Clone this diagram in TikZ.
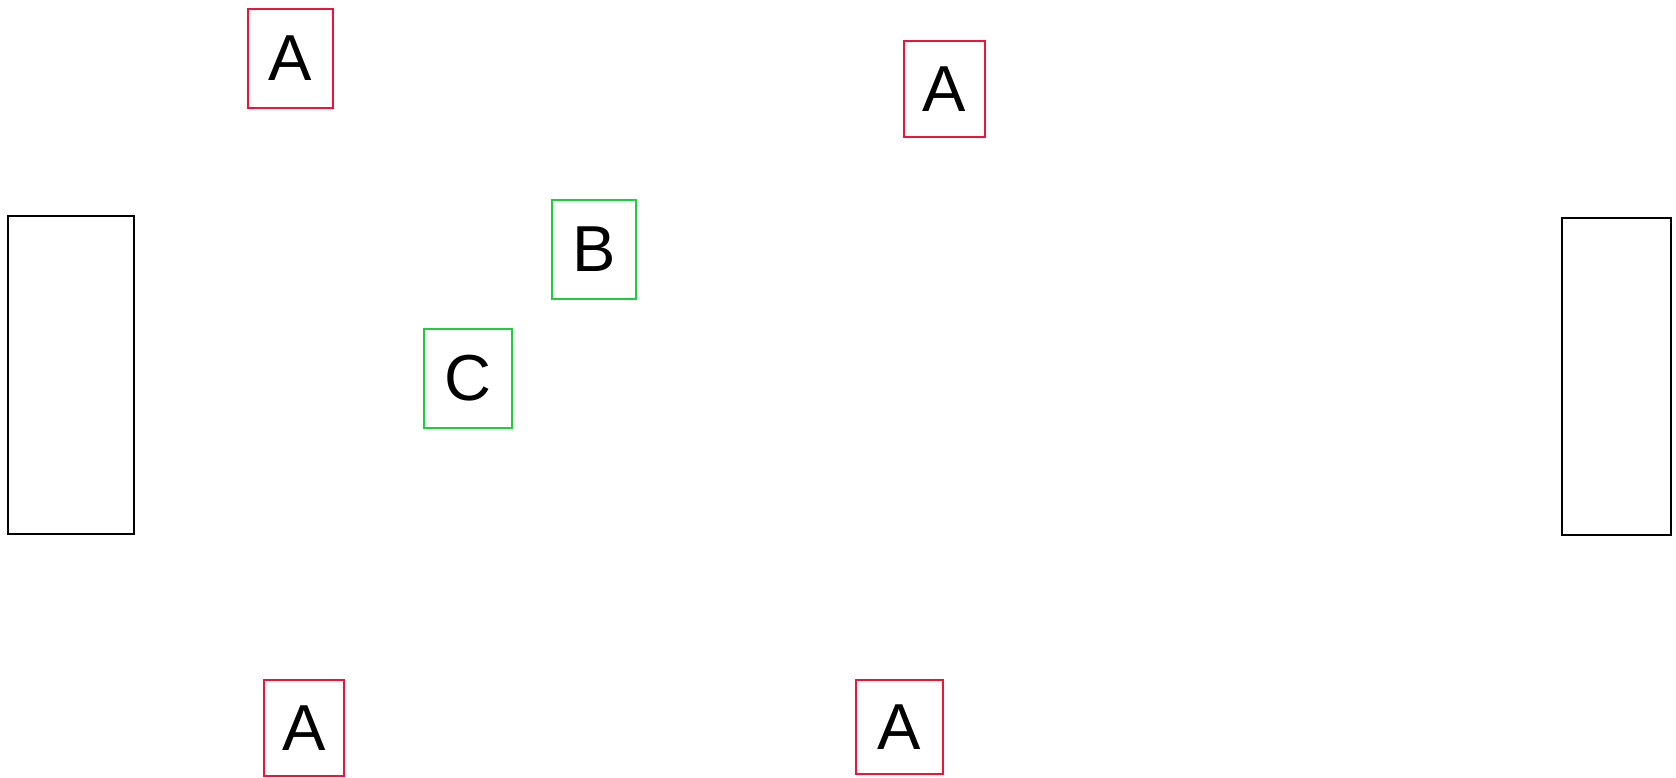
\documentclass[tikz,border=0pt]{standalone}
\usepackage{fontspec}
\setmainfont{Liberation Sans}
\definecolor{RedBox}{RGB}{238,20,55}
\definecolor{GreenBox}{RGB}{25,208,60}
\usepackage{tikz}
\usetikzlibrary{positioning}
\tikzset{
  letterbox/.style={draw, line width=2pt, inner sep=0pt, font=\fontsize{65}{65}\selectfont},
  redbox/.style={letterbox, draw=RedBox},
  greenbox/.style={letterbox, draw=GreenBox},
  blockbox/.style={draw=black, line width=2pt, inner sep=0pt}
}

\begin{document}
\begin{tikzpicture}[x=1pt, y=-1pt]
\useasboundingbox (0,0) rectangle (1676,777);

% side blocks
\node[blockbox, minimum width=126pt, minimum height=318pt] (leftblock) at (71,375) {};
\node[blockbox, minimum width=109pt, minimum height=317pt] (rightblock) at (1616.5,376.5) {};

% red boxes
\node[redbox, minimum width=85pt, minimum height=99pt] (atopleft) at (290.5,58) {A};
\node[redbox, minimum width=81pt, minimum height=96pt] (atopright) at (944.5,89) {A};
\node[redbox, minimum width=80pt, minimum height=96pt] (abotleft) at (304,728) {A};
\node[redbox, minimum width=87pt, minimum height=94pt] (abotright) at (899.5,727) {A};

% green boxes
\node[greenbox, minimum width=84pt, minimum height=99pt] (bbox) at (594,249.5) {B};
\node[greenbox, minimum width=88pt, minimum height=99pt] (cbox) at (468,378.5) {C};
\end{tikzpicture}
\end{document}
